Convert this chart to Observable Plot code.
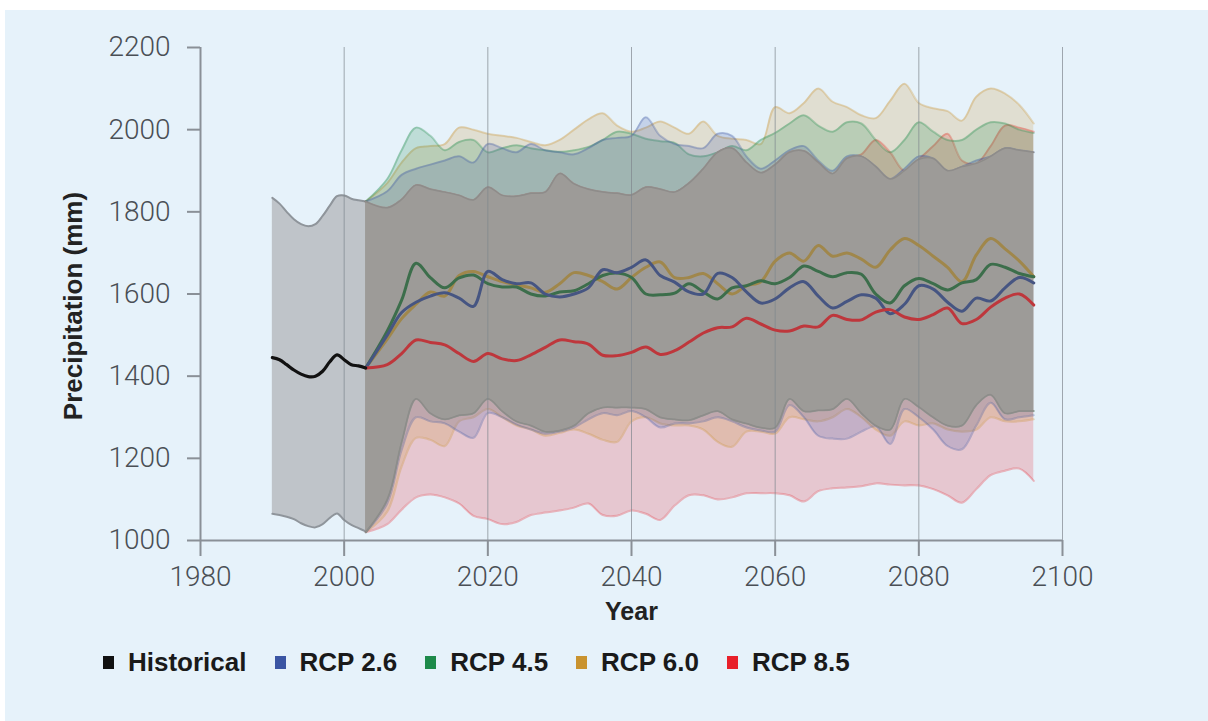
<!DOCTYPE html>
<html><head><meta charset="utf-8">
<script src="https://cdn.jsdelivr.net/npm/d3@7"></script>
<script src="https://cdn.jsdelivr.net/npm/@observablehq/plot@0.6"></script>
<style>
html,body{margin:0;padding:0;background:#fff;}
#panel{position:absolute;left:5px;top:10px;width:1203px;height:711px;background:#e6f2fa;}
#legend{display:flex;align-items:center;padding-left:98px;padding-top:17px;font-family:"Liberation Sans",Arial,sans-serif;font-weight:bold;font-size:26px;color:#1a1a1a;line-height:30px;}
.item{display:flex;align-items:center;margin-right:28px;}
.sw{width:11px;height:13px;margin-right:14px;}
svg{overflow:visible;}
</style></head><body><div id="panel"></div>
<script>
// ---------- data ----------
const histYears = [1990,1991,1992,1993,1994,1995,1996,1997,1998,1999,2000,2001,2002,2003];
const histMean  = [1445,1440,1428,1415,1405,1399,1400,1412,1435,1452,1440,1428,1425,1420];
const histHigh  = [1834,1820,1800,1782,1770,1765,1770,1790,1815,1838,1840,1832,1828,1825];
const histLow   = [1065,1062,1058,1052,1042,1035,1032,1040,1055,1066,1050,1038,1030,1022];

const rcpYears = [2003,2006,2008,2010,2012,2014,2016,2018,2020,2022,2024,2026,2028,2030,2032,2034,2036,2038,2040,2042,2044,2046,2048,2050,2052,2054,2056,2058,2060,2062,2064,2066,2068,2070,2072,2074,2076,2078,2080,2082,2084,2086,2088,2090,2092,2094,2096];

const rcp26Mean = [1420,1500,1555,1580,1595,1603,1590,1570,1655,1635,1625,1627,1600,1593,1600,1615,1659,1652,1665,1683,1645,1629,1605,1600,1650,1640,1605,1578,1588,1615,1630,1595,1566,1582,1598,1590,1552,1575,1620,1612,1580,1558,1590,1583,1615,1640,1627];
const rcp26High = [1825,1850,1890,1905,1915,1925,1935,1920,1965,1955,1945,1965,1950,1945,1940,1955,1975,1980,1985,2030,1985,1965,1960,1955,1990,1985,1935,1905,1925,1950,1960,1925,1900,1935,1935,1910,1880,1905,1935,1930,1900,1910,1925,1935,1955,1950,1945];
const rcp26Low  = [1020,1090,1220,1300,1290,1285,1265,1250,1310,1300,1282,1270,1260,1265,1275,1295,1310,1305,1315,1300,1275,1285,1285,1290,1300,1290,1275,1268,1265,1330,1300,1255,1248,1248,1265,1278,1235,1320,1300,1270,1230,1222,1280,1335,1295,1300,1305];

const rcp45Mean = [1420,1510,1585,1675,1640,1615,1639,1646,1625,1617,1617,1600,1595,1605,1608,1625,1645,1651,1640,1600,1598,1602,1625,1605,1588,1615,1620,1632,1625,1640,1668,1655,1642,1652,1648,1600,1578,1620,1638,1625,1610,1627,1635,1672,1665,1650,1642];
const rcp45High = [1825,1880,1950,2005,1985,1950,1970,1975,1945,1955,1962,1955,1950,1946,1950,1958,1975,1995,1990,1978,1972,1968,1940,1935,1945,1960,1950,1975,1992,2015,2035,2010,1995,2018,2015,1975,1945,1975,2018,1995,1975,1975,2000,2018,2015,2000,1992];
const rcp45Low  = [1020,1100,1240,1345,1310,1295,1305,1310,1345,1315,1290,1280,1265,1268,1280,1310,1324,1324,1324,1320,1300,1295,1293,1305,1315,1295,1285,1275,1275,1345,1315,1317,1320,1345,1310,1280,1270,1345,1325,1300,1280,1280,1330,1355,1310,1315,1315];

const rcp60Mean = [1420,1490,1540,1575,1605,1595,1645,1655,1642,1630,1622,1615,1604,1625,1652,1645,1630,1612,1640,1665,1678,1640,1640,1650,1625,1600,1620,1630,1680,1700,1680,1718,1692,1700,1685,1665,1707,1735,1718,1692,1665,1630,1695,1735,1710,1680,1642];
const rcp60High = [1825,1870,1920,1955,1960,1965,2005,2000,1990,1985,1980,1970,1962,1975,2000,2025,2040,2010,1995,2005,2020,2005,1990,2020,1985,1978,1975,1965,2055,2040,2065,2100,2068,2055,2035,2028,2070,2112,2065,2052,2045,2022,2080,2100,2088,2060,2015];
const rcp60Low  = [1020,1070,1180,1250,1245,1230,1290,1300,1320,1300,1280,1270,1255,1262,1270,1260,1245,1240,1290,1300,1285,1280,1280,1270,1240,1228,1265,1265,1260,1300,1295,1290,1300,1320,1300,1270,1255,1290,1280,1285,1270,1265,1270,1300,1290,1290,1295];

const rcp85Mean = [1420,1428,1455,1488,1482,1476,1455,1436,1455,1442,1438,1452,1470,1488,1484,1478,1451,1450,1458,1471,1453,1462,1483,1505,1518,1520,1541,1527,1512,1510,1522,1520,1548,1538,1537,1556,1562,1544,1538,1550,1566,1528,1538,1568,1590,1600,1573];
const rcp85High = [1825,1810,1830,1865,1855,1848,1840,1829,1860,1840,1838,1845,1848,1893,1868,1855,1848,1845,1841,1860,1855,1848,1870,1905,1945,1955,1920,1895,1915,1945,1948,1920,1893,1930,1940,1975,1945,1900,1928,1960,1990,1925,1918,1960,2010,2005,1995];
const rcp85Low  = [1020,1040,1075,1105,1112,1105,1090,1060,1052,1040,1045,1062,1068,1073,1080,1090,1062,1060,1073,1065,1050,1085,1110,1110,1100,1105,1115,1115,1115,1110,1095,1120,1127,1129,1132,1139,1136,1134,1134,1125,1110,1092,1125,1159,1170,1175,1145];

const xTicks = [1980,2000,2020,2040,2060,2080,2100];
const gridYears = [2000,2020,2040,2060,2080,2100];
const yTicks = [1000,1200,1400,1600,1800,2000,2200];
const legendLabels = ["Historical","RCP 2.6","RCP 4.5","RCP 6.0","RCP 8.5"];

// ---------- styles ----------
const legendColors = ["#111111","#3a55a3","#1d8a4a","#c9932f","#e8202a"];
const bandColor = {"RCP 2.6":"#3a55a3","RCP 4.5":"#1d8a4a","RCP 6.0":"#c9932f","RCP 8.5":"#e8202a"};
const lineColor = {"RCP 2.6":"#465582","RCP 4.5":"#3c6e4b","RCP 6.0":"#a0874b","RCP 8.5":"#be373c"};

// ---------- tables ----------
const hist = histYears.map((year,i)=>({year, mean:histMean[i], high:histHigh[i], low:histLow[i]}));
const series = [
  {key:"RCP 8.5", mean:rcp85Mean, high:rcp85High, low:rcp85Low},
  {key:"RCP 6.0", mean:rcp60Mean, high:rcp60High, low:rcp60Low},
  {key:"RCP 4.5", mean:rcp45Mean, high:rcp45High, low:rcp45Low},
  {key:"RCP 2.6", mean:rcp26Mean, high:rcp26High, low:rcp26Low}
].map(s => ({key:s.key, rows: rcpYears.map((year,i)=>({year, mean:s.mean[i], high:s.high[i], low:s.low[i]}))}));
const overlap = rcpYears.map((year,i)=>({
  year,
  high: d3.min(series, s => s.rows[i].high),
  low: d3.max(series, s => s.rows[i].low)
}));

const curve = "catmull-rom";
const marks = [
  Plot.areaY(hist, {x:"year", y1:"low", y2:"high", fill:"#bfc4c9", curve}),
  Plot.lineY(hist, {x:"year", y:"high", stroke:"#8f959b", strokeWidth:2, curve}),
  Plot.lineY(hist, {x:"year", y:"low", stroke:"#8f959b", strokeWidth:2, curve}),
];
for (const s of series) {
  const c = bandColor[s.key];
  marks.push(
    Plot.areaY(s.rows, {x:"year", y1:"low", y2:"high", fill:c, fillOpacity:0.2, curve}),
    Plot.lineY(s.rows, {x:"year", y:"high", stroke:c, strokeOpacity:0.3, strokeWidth:2, curve}),
    Plot.lineY(s.rows, {x:"year", y:"low", stroke:c, strokeOpacity:0.3, strokeWidth:2, curve})
  );
}
marks.push(
  Plot.areaY(overlap, {x:"year", y1:"low", y2:"high", fill:"#9d9b98", curve}),
  Plot.lineY(overlap, {x:"year", y:"high", stroke:"#8e8c8a", strokeWidth:1.5, curve}),
  Plot.lineY(overlap, {x:"year", y:"low", stroke:"#8e8c8a", strokeWidth:1.5, curve}),
  Plot.ruleX(gridYears, {stroke:"#7f868d", strokeWidth:1, strokeOpacity:0.7}),
  Plot.ruleX([1980], {stroke:"#8a9097", strokeWidth:2}),
  Plot.ruleY([1000], {stroke:"#8a9097", strokeWidth:2}),
  Plot.axisY({ticks:yTicks, tickFormat:"d", tickSize:13, tickPadding:17, fontSize:28, fontWeight:300, stroke:"#8a9097", strokeWidth:2, fill:"#4a4f55", label:null}),
  Plot.axisX({ticks:xTicks, tickFormat:"d", tickSize:16, tickPadding:10, fontSize:28, fontWeight:300, stroke:"#8a9097", strokeWidth:2, fill:"#4a4f55", label:null})
);
for (const key of ["RCP 6.0","RCP 4.5","RCP 2.6","RCP 8.5"]) {
  const s = series.find(d => d.key === key);
  marks.push(Plot.lineY(s.rows, {x:"year", y:"mean", stroke:lineColor[key], strokeWidth:3, curve}));
}
marks.push(
  Plot.lineY(hist, {x:"year", y:"mean", stroke:"#111", strokeWidth:3.2, curve}),
  Plot.text(["Year"], {frameAnchor:"bottom", dy:79, fontSize:25, fontWeight:"bold", fill:"#222", fontFamily:"Liberation Sans, Arial, sans-serif"}),
  Plot.text(["Precipitation (mm)"], {frameAnchor:"left", textAnchor:"middle", rotate:-90, dx:-127, dy:12, fontSize:26, fontWeight:"bold", fill:"#222", fontFamily:"Liberation Sans, Arial, sans-serif"})
);

const chart = Plot.plot({
  width:1203, height:620,
  marginLeft:195, marginRight:146, marginTop:37, marginBottom:90,
  style:{background:"transparent", fontFamily:"Roboto, 'Liberation Sans', sans-serif"},
  x:{domain:[1980,2100], axis:null},
  y:{domain:[1000,2200], axis:null},
  marks
});
const panel = document.getElementById("panel");
panel.appendChild(chart);

const legend = document.createElement("div");
legend.id = "legend";
legendLabels.forEach((lab,i)=>{
  const it = document.createElement("div"); it.className="item";
  const sw = document.createElement("span"); sw.className="sw"; sw.style.background = legendColors[i];
  const tx = document.createElement("span"); tx.textContent = lab;
  it.appendChild(sw); it.appendChild(tx); legend.appendChild(it);
});
panel.appendChild(legend);
</script></body></html>
